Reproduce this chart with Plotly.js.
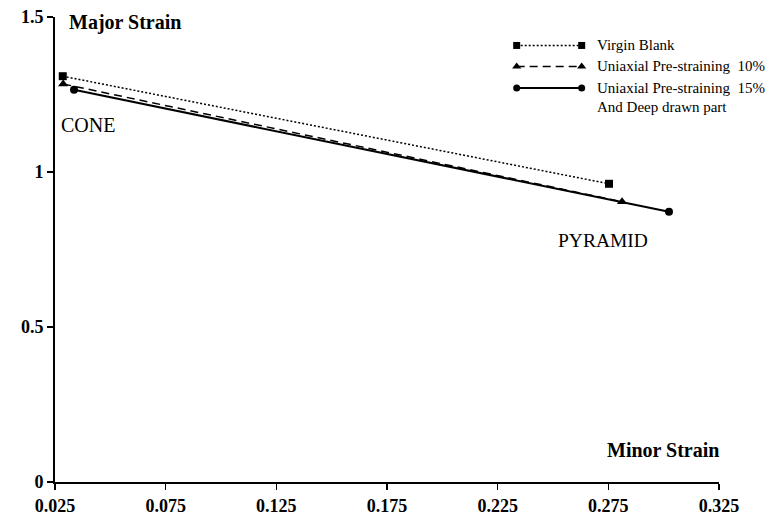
<!DOCTYPE html>
<html>
<head>
<meta charset="utf-8">
<script src="https://cdn.plot.ly/plotly-3.0.1.min.js"></script>
<style>html,body{margin:0;padding:0;background:#fff;}#chart{width:768px;height:517px;}</style>
</head>
<body>
<div id="chart"></div>
<script>
// Data
const seriesNames = ["Virgin Blank", "Uniaxial Pre-straining  10%", "Uniaxial Pre-straining  15%"];
const virginX = [0.0285, 0.2753];
const virginY = [1.309, 0.962];
const uni10X = [0.0287, 0.2812];
const uni10Y = [1.284, 0.904];
const uni15X = [0.0336, 0.3024];
const uni15Y = [1.265, 0.872];
const xTickVals = [0.025, 0.075, 0.125, 0.175, 0.225, 0.275, 0.325];
const xTickText = ["0.025", "0.075", "0.125", "0.175", "0.225", "0.275", "0.325"];
const yTickVals = [0, 0.5, 1, 1.5];
const yTickText = ["0", "0.5", "1", "1.5"];

const serif = "Liberation Serif";
const styles = [
  {dash: "2px,2px", symbol: "square", size: 8, width: 1.5},
  {dash: "8px,5px", symbol: "triangle-up", size: 9, width: 1.5},
  {dash: "solid", symbol: "circle", size: 8, width: 2}
];
const xs = [virginX, uni10X, uni15X];
const ys = [virginY, uni10Y, uni15Y];

const traces = xs.map((x, i) => ({
  x: x, y: ys[i], type: "scatter", mode: "lines+markers",
  name: seriesNames[i], showlegend: false, hoverinfo: "x+y",
  cliponaxis: false,
  line: {color: "#000", width: styles[i].width, dash: styles[i].dash},
  marker: {color: "#000", symbol: styles[i].symbol, size: styles[i].size}
}));

// custom legend (markers on both ends of the sample line), paper-like overlay axes
const legRowY = [0.9388, 0.8937, 0.8475];
const legX = [0.6953, 0.7932];
legRowY.forEach((yy, i) => {
  traces.push({
    x: legX, y: [yy, yy], xaxis: "x2", yaxis: "y2", type: "scatter", mode: "lines+markers",
    showlegend: false, hoverinfo: "skip", cliponaxis: false,
    line: {color: "#000", width: styles[i].width, dash: styles[i].dash},
    marker: {color: "#000", symbol: styles[i].symbol, size: styles[i].size - 1}
  });
});

const annotations = [
  {text: "<b>Major Strain</b>", xref: "paper", yref: "paper", x: 0.018, y: 0.989, xanchor: "left", yanchor: "middle", showarrow: false, font: {family: serif, size: 20, color: "#000"}},
  {text: "<b>Minor Strain</b>", xref: "paper", yref: "paper", x: 1.003, y: 0.068, xanchor: "right", yanchor: "middle", showarrow: false, font: {family: serif, size: 20, color: "#000"}},
  {text: "CONE", xref: "x", yref: "y", x: 0.0268, y: 1.152, xanchor: "left", yanchor: "middle", showarrow: false, font: {family: serif, size: 20, color: "#000"}},
  {text: "PYRAMID", xref: "x", yref: "y", x: 0.2512, y: 0.778, xanchor: "left", yanchor: "middle", showarrow: false, font: {family: serif, size: 19.5, color: "#000"}}
];
const legTexts = [seriesNames[0], seriesNames[1], seriesNames[2], "And Deep drawn part"];
const legTextY = [0.9388, 0.8937, 0.8475, 0.8067];
legTexts.forEach((t, i) => {
  annotations.push({text: t, xref: "paper", yref: "paper", x: 0.8133, y: legTextY[i], xanchor: "left", yanchor: "middle", showarrow: false, font: {family: serif, size: 15, color: "#000"}});
});

const layout = {
  width: 768, height: 517,
  margin: {l: 55, r: 49, t: 17, b: 35},
  paper_bgcolor: "#fff", plot_bgcolor: "#fff",
  showlegend: false,
  xaxis: {
    range: [0.025, 0.325], tickvals: xTickVals, ticktext: xTickText,
    showgrid: false, zeroline: false, showline: true, linecolor: "#000", linewidth: 2,
    ticks: "outside", ticklen: 6, tickwidth: 1.5, tickcolor: "#000",
    tickfont: {family: serif, size: 18, color: "#000", weight: "bold"}
  },
  yaxis: {
    range: [0, 1.5], tickvals: yTickVals, ticktext: yTickText,
    showgrid: false, zeroline: false, showline: true, linecolor: "#000", linewidth: 2,
    ticks: "outside", ticklen: 6, tickwidth: 1.5, tickcolor: "#000",
    tickfont: {family: serif, size: 18, color: "#000", weight: "bold"}
  },
  xaxis2: {overlaying: "x", range: [0, 1], visible: false, fixedrange: true},
  yaxis2: {overlaying: "y", range: [0, 1], visible: false, fixedrange: true},
  annotations: annotations
};

Plotly.newPlot("chart", traces, layout, {displayModeBar: false, staticPlot: true});
</script>
</body>
</html>
